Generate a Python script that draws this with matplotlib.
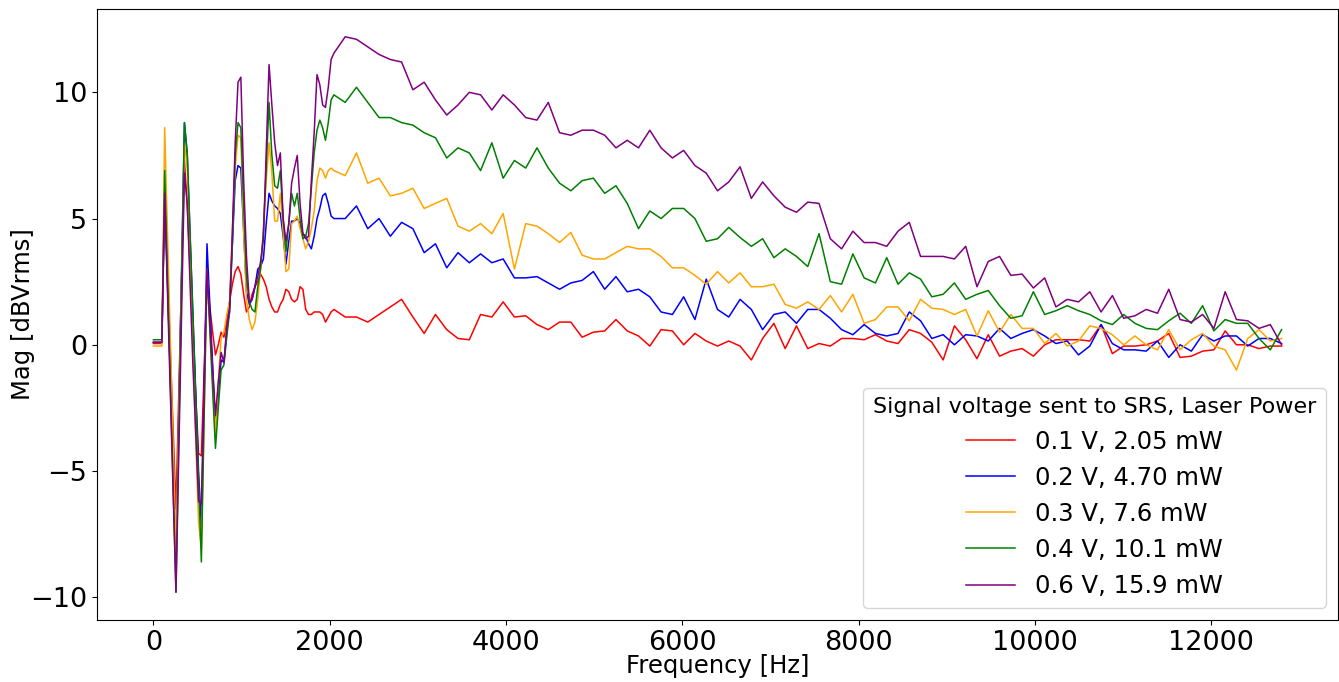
import numpy as np
import matplotlib.pyplot as plt

# frequency grid: 32 Hz steps at low freq, 128 Hz steps above 2048 Hz
freq = np.concatenate([np.arange(0, 2048, 32), np.arange(2048, 12801, 128)])

labels = ["0.1 V, 2.05 mW", "0.2 V, 4.70 mW", "0.3 V, 7.6 mW", "0.4 V, 10.1 mW", "0.6 V, 15.9 mW"]
colors = ["red", "blue", "orange", "green", "purple"]

mag_01 = [0.05, 0.05, 0.05, 0.05, 6.0, 2.9, -0.3, -3.4, -6.5, -1.9, 2.7, 7.3, 5.5, 3.0, 0.5, -2.0,
          -4.3, -4.4, -1.0, 2.5, 1.5, 0.5, -0.4, 0.0, 0.5, 0.3, 1.0, 1.7, 2.4, 2.9, 3.1, 2.8,
          2.0, 1.3, 1.5, 2.0, 2.3, 2.5, 2.8, 2.6, 2.3, 1.8, 1.5, 1.3, 1.3, 1.6, 1.8, 2.2,
          2.1, 1.8, 1.7, 1.8, 2.3, 2.2, 1.4, 1.2, 1.2, 1.3, 1.3, 1.3, 1.2, 0.9, 1.1, 1.3,
          1.4, 1.1, 1.1, 0.9, 1.2, 1.5, 1.8, 1.1, 0.45, 1.2, 0.6, 0.25, 0.2, 1.2, 1.1, 1.7,
          1.1, 1.15, 0.8, 0.6, 0.9, 0.9, 0.3, 0.5, 0.55, 1.0, 0.55, 0.35, -0.05, 0.6, 0.55, 0.0, 0.45, 0.15,
          -0.05, 0.15, -0.05, -0.6, 0.25, 0.85, -0.15, 0.75, -0.15, 0.05, -0.05, 0.25, 0.25, 0.2, 0.4, 0.15, 0.05, 0.6,
          0.45, 0.1, -0.6, 0.75, 0.2, -0.55, 0.4, -0.45, -0.25, -0.15, -0.45, 0.0, 0.2, 0.2, 0.2, 0.15, 0.8,
          -0.35, -0.05, -0.05, 0.0, 0.15, 0.45, -0.5, -0.45, -0.25, -0.2, 0.55, 0.0, 0.0, -0.15, -0.05, -0.05]

mag_02 = [0.1, 0.1, 0.1, 0.1, 6.0, 2.4, -1.2, -4.8, -8.4, -2.7, 3.1, 8.8, 7.5, 4.4, 1.2, -1.9,
          -5.0, -7.2, -1.6, 4.0, 1.6, -0.8, -3.2, -2.0, -0.6, -0.7, 0.5, 1.5, 4.0, 6.5, 7.1, 7.0,
          4.5, 2.1, 1.6, 1.8, 2.3, 3.0, 3.1, 3.4, 4.8, 6.0, 5.7, 5.5, 5.4, 5.2, 4.3, 3.2,
          4.1, 4.9, 4.9, 5.0, 4.8, 4.4, 4.3, 4.0, 3.8, 4.3, 5.0, 5.4, 5.9, 6.0, 5.6, 5.1,
          5.0, 5.0, 5.5, 4.6, 5.0, 4.3, 4.85, 4.6, 3.65, 4.0, 3.05, 3.65, 3.25, 3.6, 3.25, 3.4,
          2.65, 2.65, 2.7, 2.45, 2.2, 2.45, 2.55, 2.9, 2.2, 2.7, 2.1, 2.2, 1.9, 1.3, 1.2, 1.9, 1.0, 2.6,
          1.4, 1.1, 1.8, 1.4, 0.6, 1.2, 1.3, 0.85, 1.4, 1.4, 1.05, 0.6, 0.4, 0.8, 0.45, 0.35, 0.45, 1.3,
          0.95, 0.25, 0.4, 0.0, 0.4, 0.35, 0.15, 0.65, 0.25, 0.45, 0.6, 0.35, 0.05, 0.15, -0.4, -0.05, 0.8,
          0.05, -0.2, -0.2, -0.25, 0.15, -0.5, 0.0, -0.25, 0.4, 0.15, 0.35, 0.35, -0.05, 0.25, 0.25, 0.05]

mag_03 = [-0.05, -0.05, -0.05, -0.05, 8.6, 4.4, 0.2, -4.0, -8.2, -2.8, 2.6, 8.0, 7.0, 3.5, 0.0, -3.7,
          -7.0, -8.1, -2.6, 2.8, 0.7, -1.4, -3.5, -1.5, 0.3, 0.5, 1.2, 1.7, 4.5, 7.0, 8.3, 8.2,
          4.5, 1.8, 1.0, 0.6, 0.9, 1.8, 3.0, 4.5, 6.5, 8.0, 6.8, 4.9, 4.9, 6.0, 4.5, 2.9,
          3.0, 4.8, 4.9, 5.1, 4.6, 4.2, 3.8, 4.1, 4.6, 5.3, 6.5, 7.0, 6.9, 6.6, 6.9, 7.0,
          6.9, 6.7, 7.6, 6.4, 6.6, 5.9, 6.0, 6.2, 5.4, 5.6, 5.8, 4.7, 4.5, 4.8, 4.4, 5.2,
          3.0, 4.8, 4.7, 4.4, 4.05, 4.45, 3.55, 3.4, 3.4, 3.65, 3.9, 3.8, 3.8, 3.5, 3.05, 3.05, 2.75, 2.4,
          2.9, 2.45, 2.85, 2.3, 2.3, 2.4, 1.6, 1.45, 1.7, 1.4, 1.95, 1.3, 2.0, 0.85, 1.0, 1.5, 1.5, 0.95,
          1.8, 1.45, 1.4, 1.2, 1.4, 0.35, 1.35, 0.5, 1.2, 0.65, 0.65, 0.05, 0.45, -0.05, 0.15, 0.75, 0.65,
          0.4, 0.0, 0.35, 0.0, -0.2, 0.6, -0.2, 0.2, 0.45, -0.05, -0.2, -1.0, 0.25, 0.6, 0.15, 0.25]

mag_04 = [0.2, 0.2, 0.2, 0.2, 6.9, 2.7, -1.5, -5.6, -9.8, -3.6, 2.6, 8.8, 7.6, 4.4, 1.1, -2.1,
          -5.4, -8.6, -2.8, 3.0, 0.6, -1.8, -4.1, -2.5, -1.0, -0.8, 0.3, 1.3, 4.0, 7.5, 8.8, 8.6,
          5.5, 2.7, 1.7, 1.4, 1.3, 2.3, 3.0, 4.5, 7.0, 9.6, 7.5, 6.3, 6.2, 6.9, 5.0, 3.7,
          4.8, 6.0, 5.5, 6.0, 5.0, 4.2, 4.3, 4.8, 6.2, 7.6, 8.5, 8.9, 8.6, 8.1, 8.8, 9.7,
          9.9, 9.6, 10.2, 9.6, 9.0, 9.0, 8.8, 8.7, 8.4, 8.2, 7.4, 7.8, 7.6, 6.9, 8.0, 6.6,
          7.3, 7.0, 7.8, 7.0, 6.4, 6.1, 6.5, 6.6, 6.0, 6.3, 5.6, 4.6, 5.3, 5.0, 5.4, 5.4, 5.0, 4.1,
          4.2, 4.65, 4.25, 3.9, 4.2, 3.45, 3.8, 3.5, 3.1, 4.4, 2.5, 2.4, 3.6, 2.65, 2.45, 3.45, 2.4, 2.85,
          2.6, 1.9, 2.0, 2.45, 1.8, 2.0, 2.15, 1.55, 1.05, 1.15, 2.1, 1.2, 1.35, 1.55, 1.35, 1.2, 0.95,
          0.8, 1.2, 0.85, 0.65, 0.6, 0.95, 1.25, 0.85, 1.55, 0.55, 1.0, 0.85, 0.85, 0.25, -0.2, 0.6]

mag_06 = [0.1, 0.1, 0.1, 0.1, 6.0, 2.0, -1.9, -5.9, -9.8, -4.3, 1.2, 6.8, 5.6, 2.4, -0.8, -3.5,
          -6.2, -6.3, -1.6, 3.0, 1.0, -1.0, -2.8, -1.5, -0.3, -0.7, 0.7, 1.3, 4.5, 8.0, 10.4, 10.6,
          6.5, 3.5, 1.7, 1.8, 2.3, 2.7, 3.3, 4.2, 7.6, 11.1, 9.5, 8.0, 7.1, 7.6, 5.0, 4.1,
          4.8, 6.4, 7.0, 7.5, 5.6, 4.4, 4.2, 4.3, 6.5, 8.4, 10.7, 10.3, 9.5, 9.4, 10.2, 11.3,
          11.55, 12.2, 12.1, 11.8, 11.5, 11.3, 11.2, 10.1, 10.4, 9.7, 9.1, 9.5, 10.0, 9.9, 9.3, 9.9,
          9.5, 9.0, 8.9, 9.6, 8.4, 8.3, 8.5, 8.5, 8.3, 7.8, 8.1, 7.8, 8.5, 7.8, 7.4, 7.7, 7.1, 6.8,
          6.1, 6.45, 7.05, 5.8, 6.45, 5.9, 5.45, 5.25, 5.65, 5.6, 4.2, 3.8, 4.5, 4.05, 4.05, 3.9, 4.5, 4.85,
          3.5, 3.5, 3.5, 3.4, 3.9, 2.3, 3.3, 3.5, 2.75, 2.8, 2.25, 2.65, 1.5, 1.8, 1.7, 2.1, 1.3,
          1.95, 1.05, 1.15, 1.4, 1.25, 2.2, 1.0, 0.9, 1.2, 0.65, 2.1, 1.0, 0.95, 0.65, 0.8, 0.0]

series = [mag_01, mag_02, mag_03, mag_04, mag_06]

fig = plt.figure(figsize=(13.39, 6.82), dpi=100)
ax = fig.add_axes([97 / 1339, 62 / 682, 1241 / 1339, 611 / 682])

for vals, c, lab in zip(series, colors, labels):
    ax.plot(freq, vals, color=c, lw=1.1, label=lab)

ax.set_xlabel("Frequency [Hz]", fontsize=17.5, labelpad=-1)
ax.set_ylabel("Mag [dBVrms]", fontsize=17.5)
ax.yaxis.set_label_coords(-0.05, 0.5)
ax.tick_params(labelsize=19.5)
ax.legend(title="Signal voltage sent to SRS, Laser Power", loc="lower right",
          fontsize=17.5, title_fontsize=16)

fig.savefig("out.png", dpi=100)
